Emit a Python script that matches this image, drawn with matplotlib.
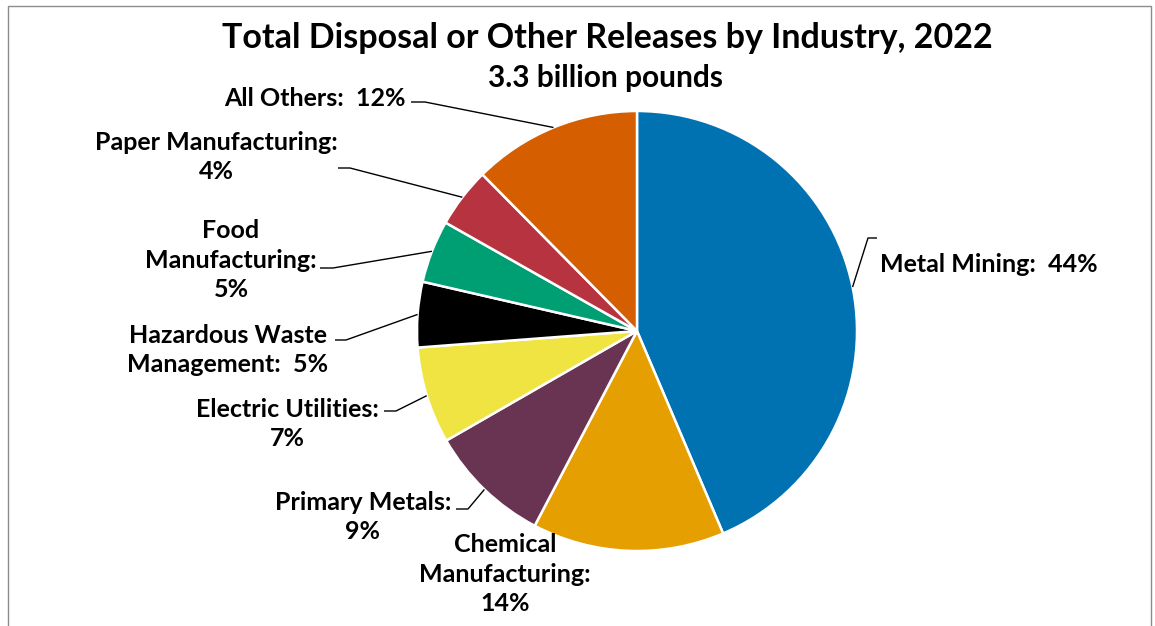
import numpy as np
import matplotlib
matplotlib.use("Agg")
import matplotlib.pyplot as plt
from matplotlib.patches import Rectangle

# ---- data ----
categories = ["Metal Mining", "Chemical Manufacturing", "Primary Metals",
              "Electric Utilities", "Hazardous Waste Management",
              "Food Manufacturing", "Paper Manufacturing", "All Others"]
values = [43.6, 14.1, 9.0, 7.1, 4.8, 4.6, 4.4, 12.4]
colors = ["#0072B2", "#E69F00", "#683452", "#F0E442", "#000000",
          "#009E73", "#B83340", "#D55E00"]
title = "Total Disposal or Other Releases by Industry, 2022"
subtitle = "3.3 billion pounds"

# label layouts (text templates)
label_fmt = ["{a}:  {p}%", "Chemical\nManufacturing:\n{p}%", "{a}:\n{p}%",
             "{a}:\n{p}%", "Hazardous Waste\nManagement:  {p}%",
             "Food\nManufacturing:\n{p}%", "{a}:\n{p}%", "{a}:  {p}%"]

W, H = 1155, 626
fig = plt.figure(figsize=(W / 100, H / 100), dpi=100)
ax = fig.add_axes([0, 0, 1, 1])

FONT = "Lato"

def py(y):
    return H - y

cx, cy, R = 637, py(331), 220
wedges, _ = ax.pie(values, colors=colors, startangle=90, counterclock=False,
                   center=(cx, cy), radius=R, frame=True,
                   wedgeprops=dict(edgecolor="white", linewidth=1.8))
ax.set_xlim(0, W)
ax.set_ylim(0, H)
ax.set_aspect("auto")
ax.axis("off")

# border
fig.patches.append(Rectangle((8 / W, -0.1), (1151 - 8) / W, 1.1 - 6 / H,
                             transform=fig.transFigure, fill=False,
                             edgecolor="#8c8c8c", linewidth=1.0))

ax.text(607, py(38), title, ha="center", va="center", fontsize=24.5,
        fontweight="bold", family=FONT)
ax.text(605, py(78), subtitle, ha="center", va="center", fontsize=21.5,
        fontweight="bold", family=FONT)

# label positions (text anchor, alignment) and leader elbow points
label_pos = [(880, 265, "left"), (505, 574, "center"), (363, 517, "center"),
             (287, 424, "center"), (228, 350, "center"), (231, 260, "center"),
             (216, 157, "center"), (315, 99, "center")]
elbows = [(868, 238), None, (468, 509), (396, 411), (346, 340),
          (333, 268), (350, 168), (425, 102)]
starts = [(877, 238), None, (456, 509), (384, 411), (335, 340),
          (320, 268), (338, 168), (411, 102)]

for i, w in enumerate(wedges):
    pct = int(round(values[i]))
    a = categories[i]
    txt = label_fmt[i].format(a=a, p=pct)
    x, y, ha = label_pos[i]
    ax.text(x, py(y), txt, ha=ha, va="center", fontsize=18,
            fontweight="bold", family=FONT, linespacing=1.33)
    if elbows[i] is not None:
        mid = np.deg2rad((w.theta1 + w.theta2) / 2)
        ex, ey = cx + R * np.cos(mid), cy + R * np.sin(mid)
        sx, sy = starts[i]
        bx, by = elbows[i]
        ax.plot([sx, bx, ex], [py(sy), py(by), ey], color="black",
                linewidth=1.0, solid_capstyle="butt")

fig.savefig("out.png", dpi=100)
